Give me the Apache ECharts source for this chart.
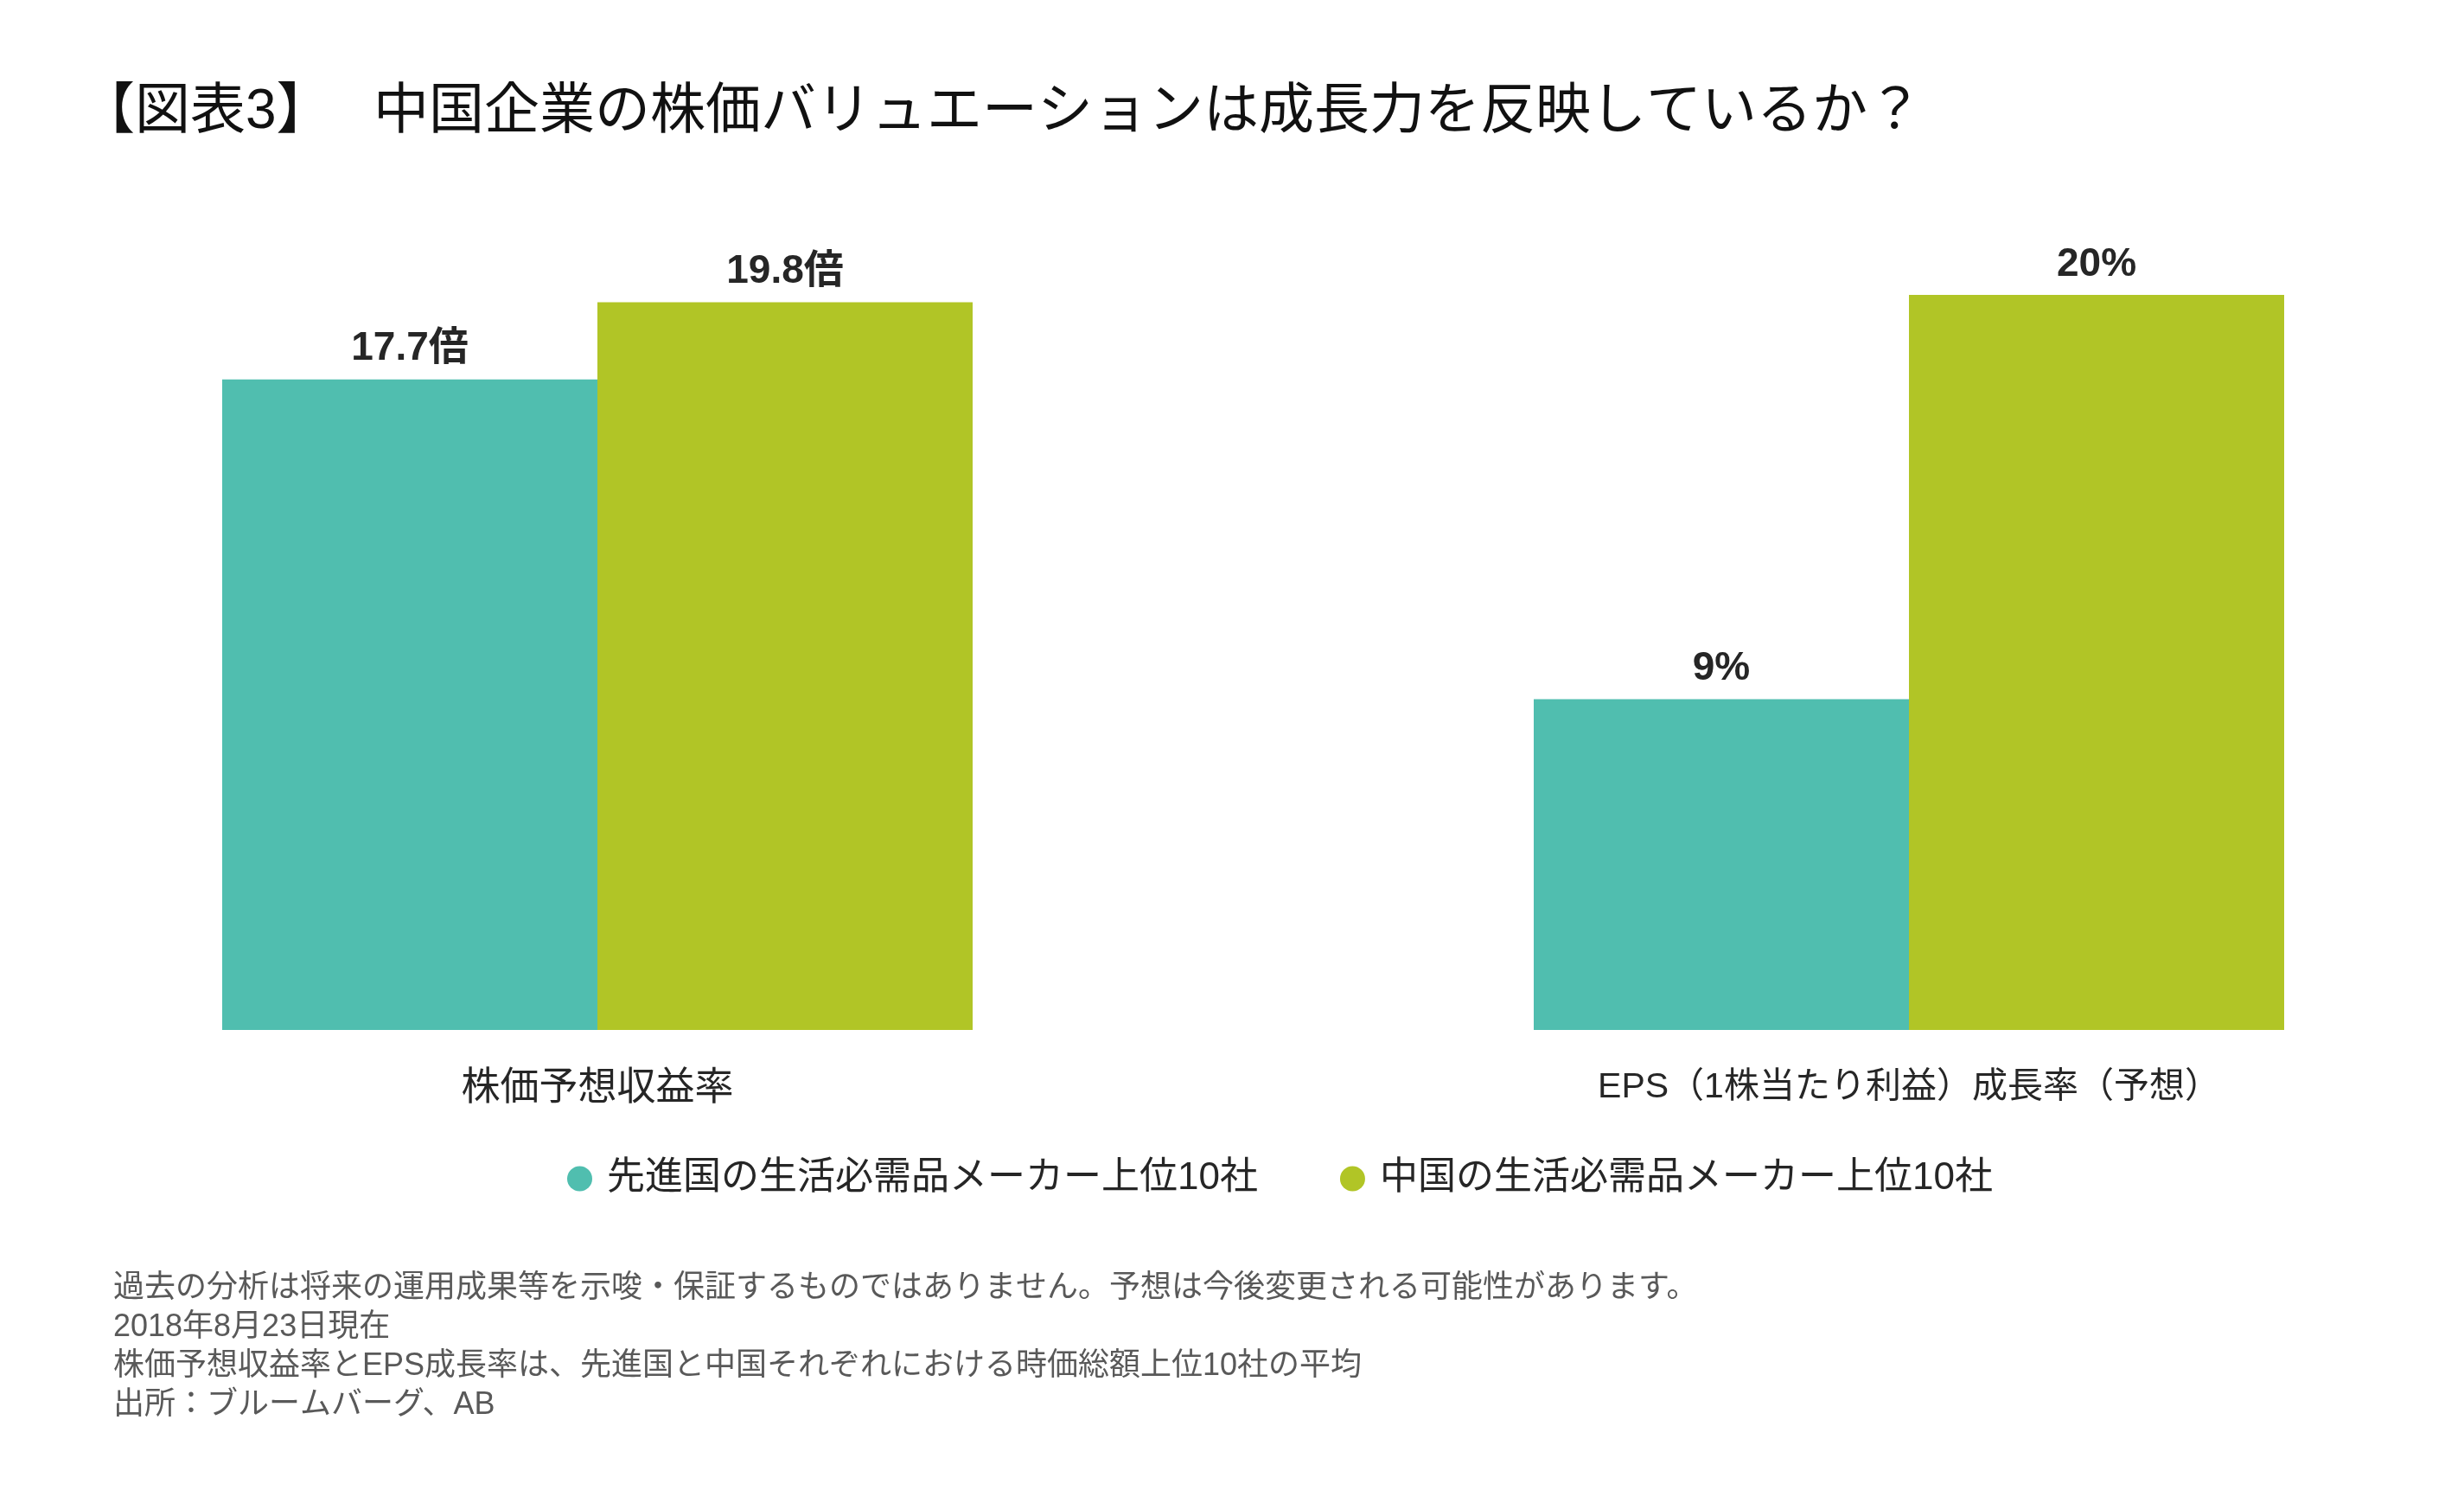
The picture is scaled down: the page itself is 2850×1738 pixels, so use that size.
<!DOCTYPE html>
<html>
<head>
<meta charset="utf-8">
<script src="https://cdn.jsdelivr.net/npm/echarts@6/dist/echarts.min.js"></script>
<style>
html,body{margin:0;padding:0;background:#fff;}
#chart{width:2850px;height:1738px;}
</style>
</head>
<body>
<div id="chart"></div>
<script>
const titleLabel = '【図表3】';
const titleText = '中国企業の株価バリュエーションは成長力を反映しているか？';
const categories = ['株価予想収益率', 'EPS（1株当たり利益）成長率（予想）'];
const seriesNames = ['先進国の生活必需品メーカー上位10社', '中国の生活必需品メーカー上位10社'];
const developedValues = [17.7, 9];
const chinaValues = [19.8, 20];
const valueUnits = ['倍', '%'];
const footnotes = [
  '過去の分析は将来の運用成果等を示唆・保証するものではありません。予想は今後変更される可能性があります。',
  '2018年8月23日現在',
  '株価予想収益率とEPS成長率は、先進国と中国それぞれにおける時価総額上位10社の平均',
  '出所：ブルームバーグ、AB'
];
const colors = ['#50BEAF', '#B1C526'];

const FONT = "'Liberation Sans', 'Noto Sans CJK JP', sans-serif";

const chart = echarts.init(document.getElementById('chart'), null, {renderer: 'canvas'});

const labelCfg = {
  show: true,
  position: 'top',
  distance: 12,
  fontFamily: FONT,
  fontSize: 46,
  fontWeight: 'bold',
  color: '#262626',
  formatter: p => p.value + valueUnits[p.dataIndex]
};

const titleStyle = {
  fontFamily: FONT,
  fontSize: 64,
  lineHeight: 64,
  fontWeight: 'normal',
  color: '#111111'
};

chart.setOption({
  backgroundColor: '#ffffff',
  animation: false,
  color: colors,
  title: [
    {text: titleLabel, left: 92, top: 98, padding: 0, textStyle: titleStyle},
    {text: titleText, left: 432, top: 98, padding: 0, textStyle: titleStyle}
  ],
  grid: {
    left: 691,
    right: 642,
    top: 341,
    height: 850,
    containLabel: false
  },
  xAxis: {
    type: 'category',
    data: categories,
    boundaryGap: false,
    axisLine: {show: false},
    axisTick: {show: false},
    splitLine: {show: false},
    axisLabel: {
      interval: 0,
      margin: 46,
      fontFamily: FONT,
      color: '#262626',
      formatter: (v, i) => i === 0 ? '{a|' + v + '}' : '{b|' + v + '}',
      rich: {
        a: {fontFamily: FONT, fontSize: 45, color: '#262626'},
        b: {fontFamily: FONT, fontSize: 41, color: '#262626'}
      }
    }
  },
  yAxis: {
    type: 'value',
    min: 0,
    max: 20,
    show: false,
    splitLine: {show: false}
  },
  legend: {
    data: seriesNames,
    left: 651,
    top: 1336,
    icon: 'circle',
    itemWidth: 29,
    itemHeight: 29,
    itemGap: 95,
    textStyle: {
      fontFamily: FONT,
      fontSize: 44,
      lineHeight: 44,
      color: '#262626',
      padding: [0, 0, 0, 12]
    }
  },
  graphic: footnotes.map((t, i) => ({
    type: 'text',
    left: 131,
    top: 1472 + i * 45,
    style: {
      text: t,
      font: '36px ' + FONT,
      fill: '#595959'
    }
  })),
  series: [
    {
      name: seriesNames[0],
      type: 'bar',
      data: developedValues,
      barWidth: 434,
      barGap: '0%',
      clip: false,
      label: labelCfg,
      itemStyle: {color: colors[0]}
    },
    {
      name: seriesNames[1],
      type: 'bar',
      data: chinaValues,
      barWidth: 434,
      barGap: '0%',
      clip: false,
      label: labelCfg,
      itemStyle: {color: colors[1]}
    }
  ]
});
</script>
</body>
</html>
